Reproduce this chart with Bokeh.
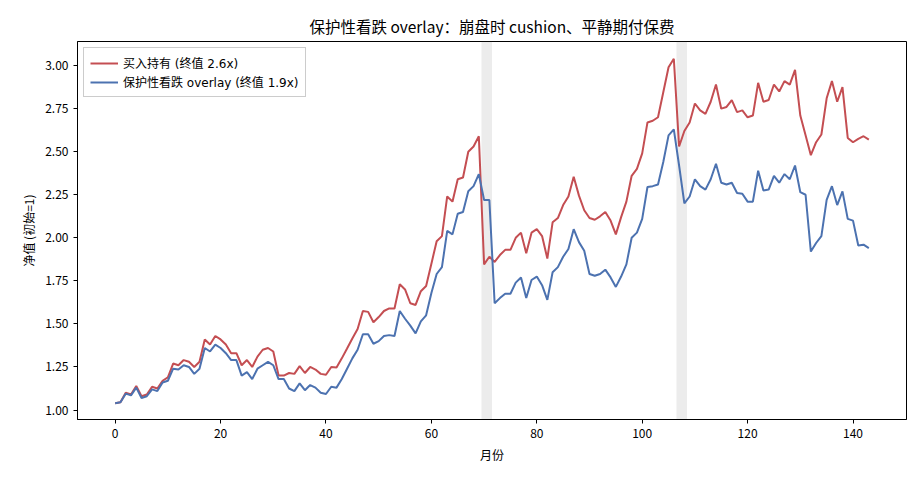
from bokeh.plotting import figure
from bokeh.models import BoxAnnotation, Legend, LegendItem, FixedTicker, NumeralTickFormatter, Range1d
from bokeh.embed import file_html
from bokeh.resources import INLINE

months = list(range(144))

buy_hold = [
    1.04, 1.045, 1.10, 1.09, 1.14, 1.08, 1.09, 1.135, 1.125, 1.17,
    1.19, 1.27, 1.26, 1.29, 1.28, 1.25, 1.28, 1.41, 1.38, 1.43,
    1.41, 1.38, 1.33, 1.33, 1.26, 1.29, 1.25, 1.31, 1.35, 1.36,
    1.34, 1.20, 1.20, 1.215, 1.21, 1.255, 1.215, 1.25, 1.235, 1.21,
    1.205, 1.25, 1.247, 1.30, 1.357, 1.415, 1.47, 1.575, 1.57, 1.51,
    1.54, 1.575, 1.59, 1.59, 1.73, 1.70, 1.62, 1.61, 1.69, 1.72,
    1.85, 1.98, 2.01, 2.24, 2.21, 2.34, 2.35, 2.50, 2.53, 2.59,
    1.846, 1.89, 1.86, 1.90, 1.93, 1.93, 2.00, 2.03, 1.91, 2.03,
    2.05, 2.01, 1.88, 2.09, 2.115, 2.19, 2.24, 2.355, 2.245, 2.16,
    2.115, 2.105, 2.125, 2.15, 2.10, 2.02, 2.12, 2.21, 2.36, 2.40,
    2.49, 2.67, 2.68, 2.70, 2.845, 2.99, 3.04, 2.53, 2.62, 2.67,
    2.78, 2.74, 2.72, 2.79, 2.89, 2.75, 2.76, 2.80, 2.73, 2.74,
    2.70, 2.71, 2.90, 2.79, 2.80, 2.89, 2.85, 2.91, 2.89, 2.975,
    2.71, 2.595, 2.48, 2.555, 2.60, 2.81, 2.91, 2.79, 2.875, 2.58,
    2.555, 2.575, 2.59, 2.57,
]

put_overlay = [
    1.04, 1.045, 1.095, 1.085, 1.13, 1.07, 1.08, 1.12, 1.11, 1.16,
    1.17, 1.24, 1.235, 1.26, 1.25, 1.21, 1.24, 1.36, 1.34, 1.38,
    1.36, 1.33, 1.29, 1.29, 1.20, 1.22, 1.18, 1.24, 1.26, 1.28,
    1.26, 1.18, 1.18, 1.125, 1.11, 1.155, 1.115, 1.145, 1.13, 1.10,
    1.093, 1.135, 1.13, 1.18, 1.24, 1.30, 1.35, 1.44, 1.44, 1.385,
    1.40, 1.43, 1.435, 1.43, 1.575, 1.53, 1.49, 1.445, 1.515, 1.55,
    1.68, 1.79, 1.83, 2.04, 2.02, 2.14, 2.15, 2.27, 2.30, 2.37,
    2.22, 2.22, 1.62, 1.65, 1.675, 1.675, 1.74, 1.77, 1.65, 1.755,
    1.775, 1.725, 1.64, 1.80, 1.83, 1.89, 1.935, 2.05, 1.975, 1.925,
    1.79, 1.78, 1.79, 1.815, 1.77, 1.715, 1.775, 1.846, 2.00, 2.03,
    2.11, 2.295, 2.30, 2.31, 2.44, 2.595, 2.63, 2.42, 2.20, 2.24,
    2.34, 2.30, 2.28, 2.34, 2.43, 2.32, 2.31, 2.32, 2.26, 2.256,
    2.21, 2.21, 2.39, 2.275, 2.28, 2.36, 2.32, 2.37, 2.34, 2.42,
    2.265, 2.25, 1.92, 1.97, 2.01, 2.22, 2.30, 2.19, 2.27, 2.11,
    2.10, 1.955, 1.96, 1.94,
]

crash_starts = [69.5, 106.5]
crash_ends = [71.5, 108.5]

x_ticks = [0, 20, 40, 60, 80, 100, 120, 140]
y_ticks = [1.00, 1.25, 1.50, 1.75, 2.00, 2.25, 2.50, 2.75, 3.00]

title_text = "保护性看跌 overlay：崩盘时 cushion、平静期付保费"
label_bh = "买入持有 (终值 2.6x)"
label_put = "保护性看跌 overlay (终值 1.9x)"

FONT = "Noto Sans CJK SC"
WIDE_FONT = "DejaVu Sans, Noto Sans CJK SC"
RED = "#c44e52"
BLUE = "#4c72b0"

p = figure(width=924, height=484, output_backend="svg", toolbar_location=None,
           x_range=Range1d(-7.15, 150.15), y_range=Range1d(0.945, 3.14),
           min_border_left=77, min_border_right=18, min_border_top=41, min_border_bottom=65)

p.title.text = title_text
p.title.align = "center"
p.title.text_font = FONT
p.title.text_font_size = "15.5px"
p.title.text_font_style = "normal"
p.title.text_color = "black"

for s, e in zip(crash_starts, crash_ends):
    p.add_layout(BoxAnnotation(left=s, right=e, fill_color="gray", fill_alpha=0.15,
                               line_alpha=0, level="underlay"))

r1 = p.line(months, buy_hold, line_color=RED, line_width=2)
r2 = p.line(months, put_overlay, line_color=BLUE, line_width=2)

legend = Legend(items=[LegendItem(label=label_bh, renderers=[r1]),
                       LegendItem(label=label_put, renderers=[r2])],
                location="top_left")
legend.label_text_font = WIDE_FONT
legend.label_text_font_size = "12px"
legend.label_text_color = "black"
legend.border_line_color = "#cccccc"
legend.border_line_alpha = 1
legend.background_fill_alpha = 0.8
legend.glyph_width = 28
legend.label_height = 14
legend.glyph_height = 14
legend.spacing = 2
legend.padding = 6
legend.margin = 6
p.add_layout(legend)

p.grid.visible = False
p.outline_line_color = "black"
p.outline_line_width = 1

p.xaxis.ticker = FixedTicker(ticks=x_ticks)
p.yaxis.ticker = FixedTicker(ticks=y_ticks)
p.yaxis.formatter = NumeralTickFormatter(format="0.00")
p.xaxis.axis_label = "月份"
p.yaxis.axis_label = "净值 (初始=1)"
for ax in (p.xaxis, p.yaxis):
    ax.axis_label_text_font = FONT
    ax.axis_label_text_font_size = "12px"
    ax.axis_label_text_font_style = "normal"
    ax.axis_label_text_color = "black"
    ax.major_label_text_font = FONT
    ax.major_label_text_font_size = "12px"
    ax.major_label_text_color = "black"
    ax.minor_tick_line_color = None
    ax.major_tick_out = 4
    ax.major_tick_in = 0
    ax.axis_line_color = "black"
    ax.major_tick_line_color = "black"

open("out.html", "w").write(file_html(p, INLINE))
